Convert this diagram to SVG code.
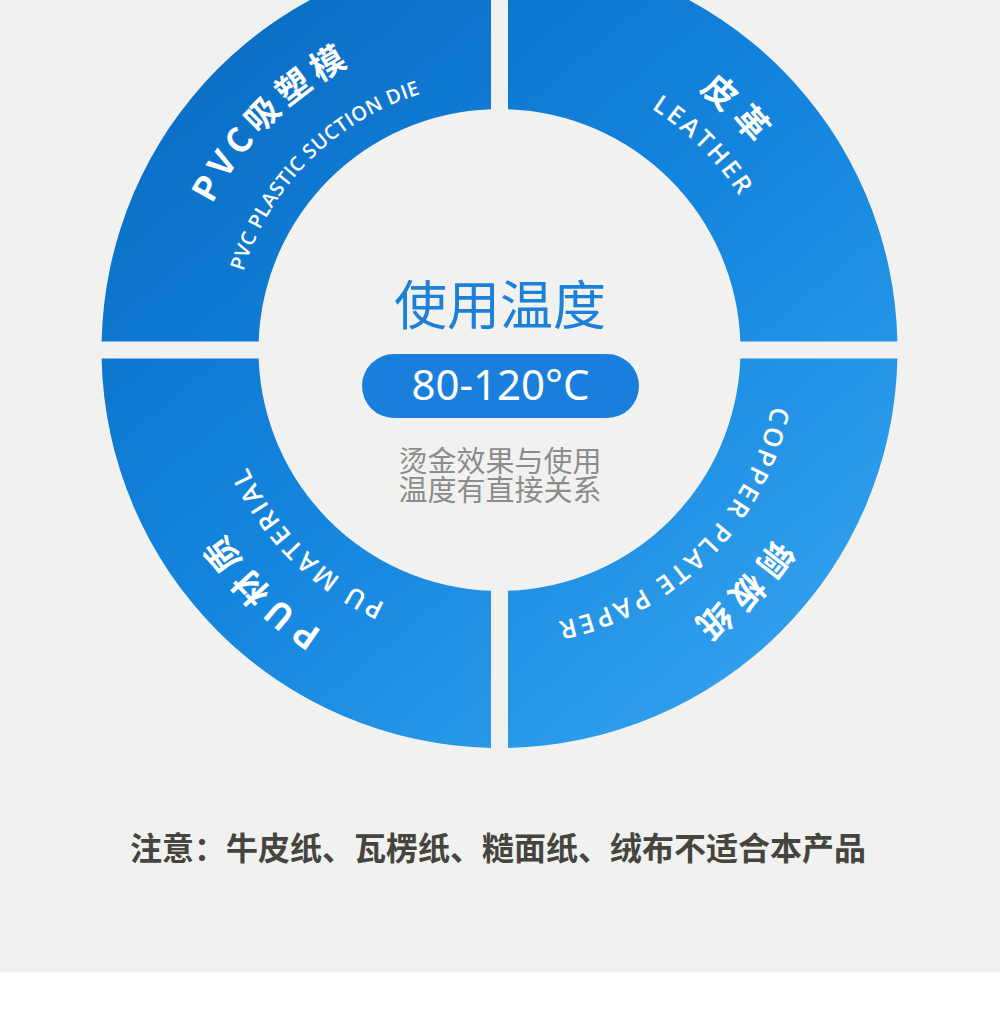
<svg xmlns="http://www.w3.org/2000/svg" width="1000" height="1010" viewBox="0 0 1000 1010">
  <defs>
    <linearGradient id="ringGrad" gradientUnits="userSpaceOnUse" x1="200" y1="0" x2="800" y2="720">
      <stop offset="0" stop-color="#0a6cc3"/>
      <stop offset="0.5" stop-color="#1485de"/>
      <stop offset="1" stop-color="#35a3ee"/>
    </linearGradient>
    <path id="tlCn" d="M235.73,534.69 A322,322 0 0 1 684.19,86.23"/>
    <path id="tlEn" d="M279.97,503.72 A268,268 0 0 1 653.22,130.47"/>
    <path id="trCn" d="M311.94,82.14 A327,327 0 0 1 767.36,537.56"/>
    <path id="trEn" d="M336.03,116.54 A285,285 0 0 1 732.96,513.47"/>
    <path id="brCn" d="M773.10,158.42 A334,334 0 0 1 307.92,623.60"/>
    <path id="brEn" d="M727.22,190.54 A278,278 0 0 1 340.04,577.72"/>
    <path id="blCn" d="M689.93,621.96 A332,332 0 0 1 227.54,159.57"/>
    <path id="blEn" d="M658.96,577.72 A278,278 0 0 1 271.78,190.54"/>
  </defs>
  <style>
    .seg { fill: url(#ringGrad); }
    .cn { fill: #ffffff; font-family: "Noto Sans CJK SC", "Noto Sans", sans-serif; font-weight: 700; font-size: 34px; letter-spacing: 6px; }
    .en { fill: #ffffff; font-family: "Open Sans", "Noto Sans", sans-serif; font-weight: 600; font-size: 26px; letter-spacing: 3px; }
    .title { fill: #1d80d8; font-family: "Noto Sans CJK SC", sans-serif; font-size: 53px; font-weight: 400; }
    .temp { fill: #ffffff; font-family: "Noto Sans", "Open Sans", sans-serif; font-size: 42px; font-weight: 400; }
    .desc { fill: #8c8c8c; font-family: "Noto Sans CJK SC", sans-serif; font-size: 29px; font-weight: 400; }
    .note { fill: #45453f; font-family: "Noto Sans CJK SC", sans-serif; font-size: 32px; font-weight: 700; }
  </style>
  <rect x="0" y="0" width="1000" height="972" fill="#f1f2ef"/>
  <rect x="0" y="972" width="1000" height="38" fill="#ffffff"/>

  <g id="node-pvc">
    <path class="seg" d="M101.59,341.5 A398,398 0 0 1 491,-47.91 L491,109.15 A241,241 0 0 0 258.65,341.5 Z"/>
    <text class="cn" text-anchor="middle"><textPath href="#tlCn" startOffset="50%">PVC吸塑模</textPath></text>
    <text class="en" text-anchor="middle" style="font-size:20px;letter-spacing:0.5px"><textPath href="#tlEn" startOffset="50%">PVC PLASTIC SUCTION DIE</textPath></text>
  </g>

  <g id="node-leather">
    <path class="seg" d="M508,-47.91 A398,398 0 0 1 897.41,341.5 L740.35,341.5 A241,241 0 0 0 508,109.15 Z"/>
    <text class="cn" text-anchor="middle" style="letter-spacing:9px"><textPath href="#trCn" startOffset="50%">皮革</textPath></text>
    <text class="en" text-anchor="middle" style="font-size:25px"><textPath href="#trEn" startOffset="50%">LEATHER</textPath></text>
  </g>

  <g id="node-copper">
    <path class="seg" d="M897.41,358.5 A398,398 0 0 1 508,747.91 L508,590.85 A241,241 0 0 0 740.35,358.5 Z"/>
    <text class="cn" text-anchor="middle" style="letter-spacing:8px"><textPath href="#brCn" startOffset="50%">铜板纸</textPath></text>
    <text class="en" text-anchor="middle"><textPath href="#brEn" startOffset="50%">COPPER PLATE PAPER</textPath></text>
  </g>

  <g id="node-pu">
    <path class="seg" d="M491,747.91 A398,398 0 0 1 101.59,358.5 L258.65,358.5 A241,241 0 0 0 491,590.85 Z"/>
    <text class="cn" text-anchor="middle" style="letter-spacing:8px"><textPath href="#blCn" startOffset="50%">PU材质</textPath></text>
    <text class="en" text-anchor="middle"><textPath href="#blEn" startOffset="50%">PU MATERIAL</textPath></text>
  </g>

  <g id="node-center">
    <text class="title" x="500" y="325" text-anchor="middle">使用温度</text>
    <rect x="362" y="354" width="277" height="64" rx="32" fill="#1a7fdc"/>
    <text class="temp" x="500.5" y="400" text-anchor="middle">80-120°C</text>
    <text class="desc" x="500" y="472" text-anchor="middle">烫金效果与使用</text>
    <text class="desc" x="500" y="501" text-anchor="middle">温度有直接关系</text>
  </g>

  <g id="connectors"></g>

  <g id="node-note">
    <text class="note" x="498" y="860" text-anchor="middle">注意：牛皮纸、瓦楞纸、糙面纸、绒布不适合本产品</text>
  </g>
</svg>
